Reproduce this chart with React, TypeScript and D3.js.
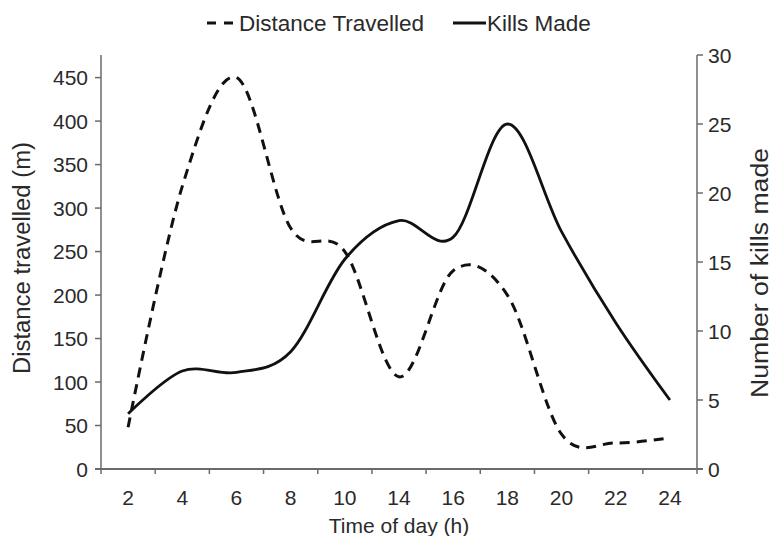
import React from "react";
import * as d3 from "d3";

const hours = ["2", "4", "6", "8", "10", "14", "16", "18", "20", "22", "24"];
const distance = [48, 325, 450, 277, 250, 106, 228, 200, 40, 30, 36];
const kills = [4, 7.1, 7, 8.5, 15.2, 18, 16.8, 25, 17.2, 10.6, 5];
const leftTicks = [0, 50, 100, 150, 200, 250, 300, 350, 400, 450];
const rightTicks = [0, 5, 10, 15, 20, 25, 30];

const W = 775;
const H = 536;
const L = 101;
const R = 697;
const T = 55;
const B = 469;
const FONT = "'Liberation Sans', Arial, sans-serif";
const AXIS = "#6a6a6a";
const TXT = "#2a2a2a";

export default function App() {
  const x = d3.scaleBand<string>().domain(hours).range([L, R]).paddingInner(0).paddingOuter(0);
  const yL = d3.scaleLinear().domain([0, 476]).range([B, T]);
  const yR = d3.scaleLinear().domain([0, 30]).range([B, T]);
  const cx = (h: string) => (x(h) as number) + x.bandwidth() / 2;

  const lineD = d3
    .line<number>()
    .x((_, i) => cx(hours[i]))
    .y((d) => yL(d))
    .curve(d3.curveCardinal.tension(0));
  const lineK = d3
    .line<number>()
    .x((_, i) => cx(hours[i]))
    .y((d) => yR(d))
    .curve(d3.curveCardinal.tension(0));

  const boundaries = hours.map((h) => x(h) as number).concat([R]);

  return (
    <svg width={W} height={H} style={{ position: "absolute", left: 0, top: 0, background: "#fff" }} fontFamily={FONT}>
      <rect x={0} y={0} width={W} height={H} fill="#fff" />
      {/* legend */}
      <line x1={207} x2={233} y1={23} y2={23} stroke="#111" strokeWidth={3} strokeDasharray="9 8" />
      <text x={239} y={31} fontSize={22.5} fill={TXT}>Distance Travelled</text>
      <line x1={453} x2={486} y1={23} y2={23} stroke="#111" strokeWidth={3} />
      <text x={487} y={31} fontSize={22.5} fill={TXT}>Kills Made</text>

      {/* left axis */}
      <line x1={L} x2={L} y1={T} y2={B} stroke={AXIS} strokeWidth={1.5} />
      {leftTicks.map((t) => (
        <g key={"l" + t}>
          <line x1={L - 6} x2={L} y1={yL(t)} y2={yL(t)} stroke={AXIS} strokeWidth={1.5} />
          <text x={88} y={yL(t)} dy="0.36em" textAnchor="end" fontSize={21} fill={TXT}>{t}</text>
        </g>
      ))}
      {/* right axis */}
      <line x1={R} x2={R} y1={T} y2={B} stroke={AXIS} strokeWidth={1.5} />
      {rightTicks.map((t) => (
        <g key={"r" + t}>
          <line x1={R} x2={R + 6} y1={yR(t)} y2={yR(t)} stroke={AXIS} strokeWidth={1.5} />
          <text x={708} y={yR(t)} dy="0.36em" textAnchor="start" fontSize={21} fill={TXT}>{t}</text>
        </g>
      ))}
      {/* x axis */}
      <line x1={L - 6} x2={R + 6} y1={B} y2={B} stroke={AXIS} strokeWidth={2} />
      {boundaries.map((b, i) => (
        <line key={"b" + i} x1={b} x2={b} y1={B} y2={B + 5} stroke={AXIS} strokeWidth={1.5} />
      ))}
      {hours.map((h) => (
        <text key={"x" + h} x={cx(h)} y={505} textAnchor="middle" fontSize={21} fill={TXT}>{h}</text>
      ))}
      <text x={(L + R) / 2} y={533} textAnchor="middle" fontSize={21} fill={TXT}>Time of day (h)</text>
      <text transform={`translate(30, 258) rotate(-90)`} textAnchor="middle" fontSize={23} textLength={232} lengthAdjust="spacingAndGlyphs" fill={TXT}>Distance travelled (m)</text>
      <text transform={`translate(768, 273) rotate(-90)`} textAnchor="middle" fontSize={23} textLength={250} lengthAdjust="spacingAndGlyphs" fill={TXT}>Number of kills made</text>

      {/* series */}
      <path d={lineD(distance) || ""} fill="none" stroke="#111" strokeWidth={3} strokeDasharray="10 7" />
      <path d={lineK(kills) || ""} fill="none" stroke="#111" strokeWidth={2.8} />
    </svg>
  );
}
